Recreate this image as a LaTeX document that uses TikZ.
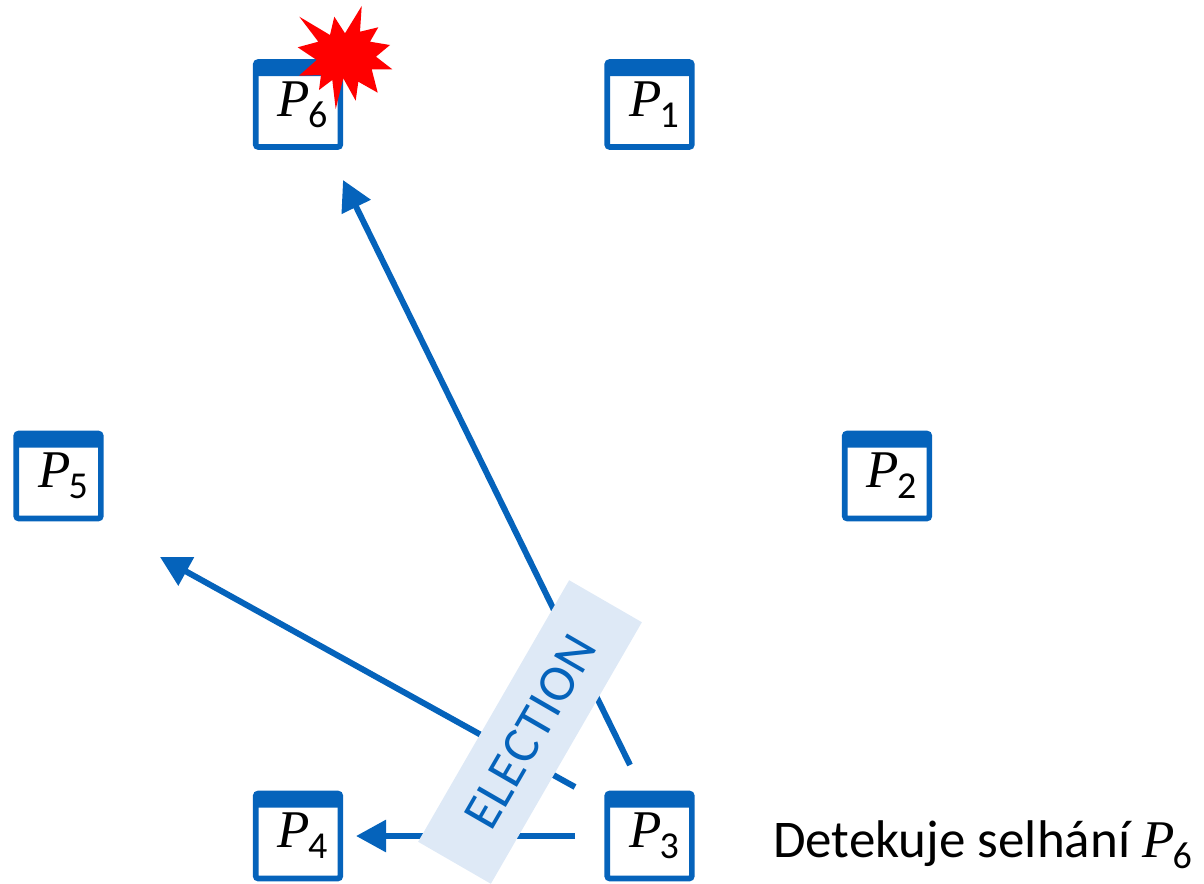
\documentclass[tikz,border=0pt]{standalone}
\usepackage{fontspec}
\setmainfont{Carlito}
\newfontfamily\procfont{Liberation Serif}
\usetikzlibrary{arrows.meta}
\definecolor{procblue}{HTML}{0563BB}
\definecolor{bandblue}{HTML}{DEE9F6}
\newcommand{\procname}[1]{{\procfont\fontsize{53}{56}\selectfont\itshape P\kern-2pt\raisebox{-11pt}{\normalfont\fontsize{38}{40}\selectfont #1}}}
\tikzset{
    procbox/.style={draw=procblue, line width=5.6pt, rounded corners=2.5pt, fill=white,
        minimum width=84.6pt, minimum height=85pt, inner sep=0pt, outer sep=0pt,
        path picture={\fill[procblue] (path picture bounding box.north west) rectangle ([yshift=-14pt]path picture bounding box.north east);}},
    msgarrow/.style={draw=procblue, line width=6pt, -{Triangle[length=30pt,width=31pt]}},
    msgband/.style={fill=bandblue, text=procblue, minimum width=302pt, minimum height=84pt,
        inner sep=0pt, rotate=60, font=\fontsize{52}{56}\selectfont\addfontfeature{LetterSpace=2}}
}

\begin{document}
\begin{tikzpicture}[x=1pt,y=-1pt]
\useasboundingbox (0,0) rectangle (1204,883);

% Processes
\foreach \i/\x/\y in {6/298/104.5,1/649.5/104.5,5/58.5/476,2/887/476,4/298/836,3/649.5/836}
{
    \node[procbox] (p\i) at (\x,\y) {\hspace{9pt}\raisebox{-5.5pt}{\procname{\i}}};
}

% Free ends of the messages
\coordinate (fromsix) at (630,765);
\coordinate (tosix) at (343,180);
\coordinate (fromfive) at (575,787);
\coordinate (tofive) at (160,557);
\coordinate (fromfour) at (575,836);
\coordinate (tofour) at (356,836);

% Messages sent by P3
\draw[msgarrow] (fromsix) -- (tosix);
\draw[msgarrow] (fromfive) -- (tofive);
\draw[msgarrow] (fromfour) -- (tofour);

% Band over the messages
\node[msgband] (band) at (530,732) {ELECTION};

% Crash mark on P6
\fill[red] (299.3,16.7) -- (330,35) -- (334.3,16.7) -- (345,33.3) -- (361.7,6) -- (360,31.7)
    -- (378.3,27.3) -- (370,41.7) -- (390,45) -- (376,56.7) -- (392.3,69.3) -- (371.7,69.3)
    -- (377.7,92.7) -- (358.3,81.7) -- (355.7,100.7) -- (343.3,78.3) -- (335.7,109) -- (332.3,80)
    -- (319,90) -- (321,75) -- (299,75.7) -- (316.7,60) -- (297.7,47.3) -- (318.3,41.7) -- cycle;

% Note next to P3
\node[anchor=base west, inner sep=0pt, font=\fontsize{53}{56}\selectfont] (note) at (773,857) {Detekuje selhání \procname{6}};

\end{tikzpicture}
\end{document}
